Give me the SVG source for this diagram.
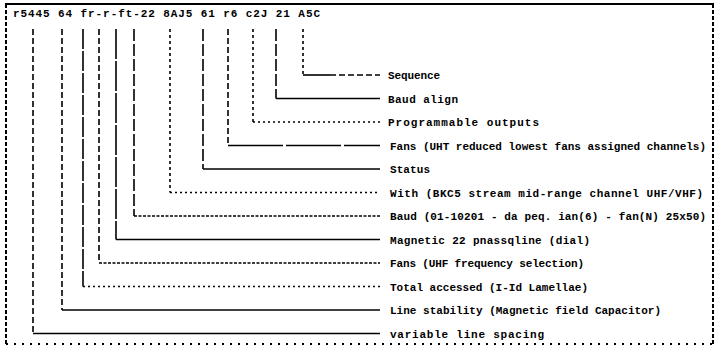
<svg xmlns="http://www.w3.org/2000/svg" width="716" height="350" viewBox="0 0 716 350">
<style>
text{font-family:"Liberation Mono","DejaVu Sans Mono",monospace;font-size:11px;font-weight:bold;fill:#000}
.c{fill:none;stroke:#000;stroke-width:1.6}
.v1{stroke-dasharray:6 3}
.v2{stroke-dasharray:12 3}
.v3{stroke-dasharray:3 3}
.hs{}
.hd{stroke-dasharray:2 3}
.hm{stroke-dasharray:3 1.5}
.fr{fill:none;stroke:#000;stroke-width:2}
</style>
<g id="frame">
<line class="fr" x1="5" y1="4" x2="714" y2="4"/>
<line class="fr" x1="6" y1="4" x2="6" y2="345" style="stroke-dasharray:4 2"/>
<line class="fr" x1="713" y1="4" x2="713" y2="345" style="stroke-dasharray:4 2"/>
<line class="fr" x1="6" y1="344" x2="713" y2="344" style="stroke-dasharray:2 6"/>
</g>
<g id="header"><text x="13" y="17" textLength="307" lengthAdjust="spacing">r5445 64 fr-r-ft-22 8AJ5 61 r6 c2J 21 A5C</text></g>
<g id="connectors">
<path class="c v3" d="M303 29V75"/><path class="c hs" d="M303 75H330"/><path class="c" d="M330 75H380" style="stroke-dasharray:6 3"/>
<path class="c v2" d="M276 29V98.5"/><path class="c hs" d="M276 98.5H380"/>
<path class="c v3" d="M253 29V122"/><path class="c hd" d="M253 122H380"/>
<path class="c v1" d="M228 29V145.5"/><path class="c" d="M228 145.5H380" style="stroke-dasharray:55 3"/>
<path class="c v2" d="M203 29V169"/><path class="c hs" d="M203 169H380"/>
<path class="c v3" d="M170 29V192.5"/><path class="c hd" d="M170 192.5H380"/>
<path class="c v2" d="M134 29V216"/><path class="c hm" d="M134 216H380"/>
<path class="c" d="M116 29V239.5" style="stroke-dasharray:30 2"/><path class="c hs" d="M116 239.5H380"/>
<path class="c v1" d="M99 29V263"/><path class="c hm" d="M99 263H380"/>
<path class="c" d="M83 29V286.5" style="stroke-dasharray:20 2"/><path class="c hd" d="M83 286.5H380"/>
<path class="c v1" d="M62 29V310"/><path class="c hs" d="M62 310H380"/>
<path class="c v1" d="M33 29V333.5"/><path class="c hs" d="M33 333.5H380"/>
</g>
<g id="n1"><text x="388" y="79" textLength="52" lengthAdjust="spacing">Sequence</text></g>
<g id="n2"><text x="388" y="102.5" textLength="70" lengthAdjust="spacing">Baud align</text></g>
<g id="n3"><text x="388" y="126" textLength="151" lengthAdjust="spacing">Programmable outputs</text></g>
<g id="n4"><text x="390" y="149.5" textLength="316" lengthAdjust="spacing">Fans (UHT reduced lowest fans assigned channels)</text></g>
<g id="n5"><text x="390" y="173" textLength="40" lengthAdjust="spacing">Status</text></g>
<g id="n6"><text x="390" y="196.5" textLength="313" lengthAdjust="spacing">With (BKC5 stream mid-range channel UHF/VHF)</text></g>
<g id="n7"><text x="390" y="220" textLength="316" lengthAdjust="spacing">Baud (01-10201 - da peq. ian(6) - fan(N) 25x50)</text></g>
<g id="n8"><text x="390" y="243.5" textLength="200" lengthAdjust="spacing">Magnetic 22 pnassqline (dial)</text></g>
<g id="n9"><text x="390" y="267" textLength="194" lengthAdjust="spacing">Fans (UHF frequency selection)</text></g>
<g id="n10"><text x="390" y="290.5" textLength="198" lengthAdjust="spacing">Total accessed (I-Id Lamellae)</text></g>
<g id="n11"><text x="390" y="314" textLength="271" lengthAdjust="spacing">Line stability (Magnetic field Capacitor)</text></g>
<g id="n12"><text x="390" y="337.5" textLength="154" lengthAdjust="spacing">variable line spacing</text></g>
</svg>
